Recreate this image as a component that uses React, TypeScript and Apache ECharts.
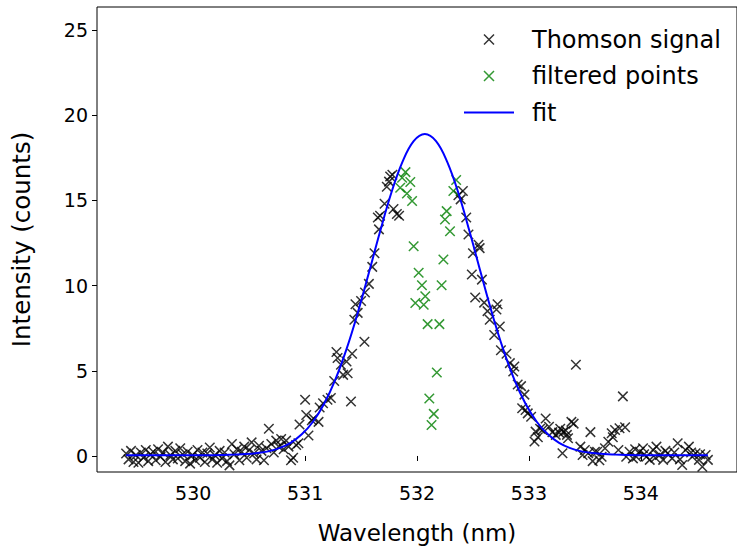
import React, { useEffect, useRef } from "react";
import * as echarts from "echarts";

// Thomson signal (black) — wavelength (nm) and intensity (counts)
const signalX = [
  529.4, 529.422, 529.444, 529.466, 529.488, 529.51, 529.532, 529.554, 529.576, 529.598,
  529.62, 529.642, 529.664, 529.686, 529.708, 529.73, 529.752, 529.774, 529.796, 529.818,
  529.84, 529.862, 529.884, 529.906, 529.928, 529.95, 529.972, 529.994, 530.016, 530.038,
  530.06, 530.082, 530.104, 530.126, 530.148, 530.17, 530.192, 530.214, 530.236, 530.258,
  530.28, 530.302, 530.324, 530.346, 530.368, 530.39, 530.412, 530.434, 530.456, 530.478,
  530.5, 530.522, 530.544, 530.566, 530.588, 530.61, 530.632, 530.654, 530.676, 530.698,
  530.72, 530.742, 530.764, 530.786, 530.808, 530.83, 530.852, 530.874, 530.893, 530.92,
  530.94, 530.95, 531.0, 531.01, 531.03, 531.06, 531.075, 531.12, 531.13, 531.16,
  531.2, 531.23, 531.26, 531.28, 531.29, 531.32, 531.34, 531.37, 531.38, 531.41,
  531.42, 531.44, 531.45, 531.47, 531.5, 531.53, 531.535, 531.57, 531.6, 531.62,
  531.65, 531.66, 531.67, 531.71, 531.73, 531.75, 531.76, 531.78, 531.79, 531.82,
  531.84,
  532.37, 532.39, 532.41, 532.44, 532.46, 532.49, 532.5, 532.52, 532.55, 532.56,
  532.58, 532.6, 532.63, 532.65, 532.69, 532.71, 532.72, 532.74, 532.75, 532.8,
  532.83, 532.86, 532.87, 532.9, 532.93, 532.94, 532.96, 532.97, 532.99, 533.02,
  533.05, 533.06, 533.08, 533.1, 533.12, 533.15, 533.18, 533.21, 533.24, 533.27,
  533.28, 533.3, 533.31, 533.33, 533.34, 533.35, 533.38, 533.4, 533.42, 533.46,
  533.48, 533.5, 533.53, 533.55, 533.57, 533.59, 533.61, 533.63, 533.65, 533.68,
  533.71, 533.74, 533.75, 533.77, 533.8, 533.81, 533.84, 533.86, 533.87, 533.9,
  533.93, 533.95, 533.96, 533.99, 534.02, 534.03, 534.05, 534.08, 534.11, 534.13,
  534.14, 534.17, 534.2, 534.22, 534.24, 534.28, 534.3, 534.33, 534.35, 534.37,
  534.4, 534.43, 534.45, 534.46, 534.49, 534.52, 534.53, 534.55, 534.58, 534.6,
];
const signalY = [
  0.15, -0.2, 0.3, -0.35, 0.05, -0.4, 0.2, -0.1, 0.35, -0.3,
  0.1, 0.25, -0.25, 0.4, -0.05, 0.2, -0.35, 0.55, 0.05, -0.2,
  0.3, -0.15, 0.45, 0.1, -0.3, 0.25, -0.45, 0.05, -0.25, 0.35,
  -0.1, 0.2, -0.35, 0.15, 0.5, -0.2, 0.05, -0.4, 0.3, -0.15,
  0.2, -0.3, -0.55, 0.7, 0.1, 0.4, -0.25, 0.25, 0.55, -0.1,
  0.35, 0.8, 0.15, -0.2, 0.6, 0.3, -0.25, 0.45, 1.6, 0.7,
  0.2, 0.9, 0.55, 1.0, 0.4, 0.9, 0.55, -0.25, -0.1, 0.65,
  0.75, 1.85, 3.3, 2.4, 1.2, 2.1, 2.2, 2.0, 2.85, 3.1,
  3.3, 3.4, 4.4, 6.1, 5.75, 5.35, 4.76, 5.55, 4.86, 3.2,
  6.0, 8.0, 8.9, 8.4, 9.1, 6.7, 9.6, 10.1, 11.1, 11.9,
  14.0, 13.3, 14.1, 14.8, 15.8, 16.1, 16.4, 16.5, 14.5, 14.2,
  14.1,
  15.3, 15.06, 15.55, 14.0, 13.0, 10.65, 11.9, 9.3, 12.4, 12.2,
  10.35, 9.0, 8.5, 8.0, 7.1, 8.6, 8.9, 7.6, 6.2, 6.0,
  5.45, 4.96, 5.25, 4.2, 4.1, 2.8, 3.6, 2.7, 2.5, 2.3,
  0.85, 1.43, 1.1, 1.6, 1.53, 2.2, 1.72, 1.4, 1.24, 1.37,
  1.6, 0.16, 1.43, 1.5, 1.24, 1.04, 2.0, 1.9, 5.35, 0.55,
  0.06, 0.35, 0.16, 1.4, -0.3, 0.25, 0.25, -0.25, -0.04, 0.45,
  0.84, 1.33, 1.1, 1.53, 0.35, 1.63, 3.5, 1.69, -0.04, 0.25,
  -0.14, 0.4, -0.04, 0.25, 0.45, 0.1, -0.04, -0.23, 0.35, -0.1,
  0.55, 0.06, -0.23, 0.3, 0.16, -0.14, 0.2, 0.75, -0.2, -0.53,
  0.35, 0.55, 0.2, -0.04, 0.16, -0.23, 0.1, -0.63, 0.06, -0.23,
];

// Filtered points (green)
const filteredX = [
  531.85, 531.867, 531.897, 531.91, 531.94, 531.956, 531.97, 531.985, 532.015, 532.044,
  532.06, 532.074, 532.095, 532.11, 532.13, 532.15, 532.177, 532.2, 532.22, 532.236,
  532.25, 532.265, 532.295, 532.325, 532.35,
];
const filteredY = [
  15.74, 16.33, 16.66, 15.4, 16.08, 14.96, 12.31, 8.98, 10.75, 10.02,
  8.88, 9.37, 7.74, 3.37, 1.82, 2.47, 4.9, 7.74, 10.02, 11.53,
  13.88, 14.37, 13.19, 15.55, 16.2,
];

// Fit curve (blue)
const fitX = [
  529.4, 529.8, 530.17, 530.27, 530.37, 530.47, 530.57, 530.67, 530.77, 530.87,
  530.97, 531.07, 531.17, 531.27, 531.37, 531.47, 531.57, 531.67, 531.77, 531.87,
  531.97, 532.07, 532.17, 532.27, 532.37, 532.47, 532.57, 532.67, 532.77, 532.87,
  532.97, 533.07, 533.17, 533.27, 533.37, 533.47, 533.57, 533.67, 533.77, 533.87,
  533.97, 534.3, 534.6,
];
const fitY = [
  0.05, 0.05, 0.05, 0.06, 0.08, 0.11, 0.17, 0.27, 0.46, 0.77,
  1.27, 2.01, 3.06, 4.48, 6.27, 8.39, 10.75, 13.17, 15.43, 17.26,
  18.48, 18.9, 18.48, 17.26, 15.43, 13.17, 10.75, 8.39, 6.27, 4.48,
  3.06, 2.01, 1.27, 0.77, 0.46, 0.27, 0.17, 0.11, 0.08, 0.06,
  0.05, 0.05, 0.05,
];

const xTicks = [530, 531, 532, 533, 534];
const yTicks = [0, 5, 10, 15, 20, 25];

const FONT = "DejaVu Sans";
const XMARK = "path://M0,0L10,10M10,0L0,10";

export default function App() {
  const ref = useRef<HTMLDivElement>(null);
  useEffect(() => {
    if (!ref.current) return;
    const chart = echarts.init(ref.current, null, { renderer: "svg" });
    const zip = (xs: number[], ys: number[]) => xs.map((x, i) => [x, ys[i]]);
    chart.setOption({
      animation: false,
      backgroundColor: "#fff",
      grid: {
        left: 97, top: 7, right: -6, bottom: 85,
        show: true, borderColor: "#000", borderWidth: 1, backgroundColor: "transparent",
      },
      legend: {
        orient: "vertical", left: 458, top: 22.5,
        itemWidth: 50, itemHeight: 10, itemGap: 12.5,
        symbolKeepAspect: true, selectedMode: false,
        textStyle: { fontFamily: FONT, fontSize: 24, color: "#000", padding: [0, 0, 0, 13] },
        data: [
          { name: "Thomson signal", icon: XMARK, itemStyle: { color: "transparent", borderColor: "#000", borderWidth: 1.5 } },
          { name: "filtered points", icon: XMARK, itemStyle: { color: "transparent", borderColor: "#008000", borderWidth: 1.5 } },
          { name: "fit", itemStyle: { color: "transparent", borderColor: "transparent", borderWidth: 0, opacity: 0 } },
        ],
      },
      xAxis: {
        type: "value", min: 529.14, max: 534.86,
        name: "Wavelength (nm)", nameLocation: "middle", nameGap: 49,
        nameTextStyle: { fontFamily: FONT, fontSize: 23, color: "#000" },
        axisLine: { show: false },
        axisTick: { show: true, inside: false, length: 5, lineStyle: { color: "#000", width: 1 }, customValues: xTicks },
        axisLabel: { fontFamily: FONT, fontSize: 19, color: "#000", margin: 11, customValues: xTicks },
        splitLine: { show: false },
      },
      yAxis: {
        type: "value", min: -0.94, max: 26.35,
        name: "Intensity (counts)", nameLocation: "middle", nameGap: 63, nameRotate: 90,
        nameTextStyle: { fontFamily: FONT, fontSize: 24.5, color: "#000" },
        axisLine: { show: false },
        axisTick: { show: true, inside: false, length: 5, lineStyle: { color: "#000", width: 1 }, customValues: yTicks },
        axisLabel: { fontFamily: FONT, fontSize: 19, color: "#000", margin: 9, customValues: yTicks },
        splitLine: { show: false },
      },
      series: [
        {
          name: "Thomson signal", type: "scatter", data: zip(signalX, signalY),
          symbol: XMARK, symbolSize: 9.5, silent: true,
          itemStyle: { color: "transparent", borderColor: "#000", borderWidth: 1.5 },
        },
        {
          name: "filtered points", type: "scatter", data: zip(filteredX, filteredY),
          symbol: XMARK, symbolSize: 9.5, silent: true,
          itemStyle: { color: "transparent", borderColor: "#008000", borderWidth: 1.5 },
        },
        {
          name: "fit", type: "line", data: zip(fitX, fitY), symbol: "none", smooth: 0.4,
          silent: true, lineStyle: { color: "#0000ff", width: 2 }, itemStyle: { color: "#0000ff" },
        },
      ],
    });
    return () => chart.dispose();
  }, []);
  return (
    <div
      ref={ref}
      style={{ position: "fixed", left: 0, top: 0, width: 737, height: 557, background: "#fff" }}
    />
  );
}
